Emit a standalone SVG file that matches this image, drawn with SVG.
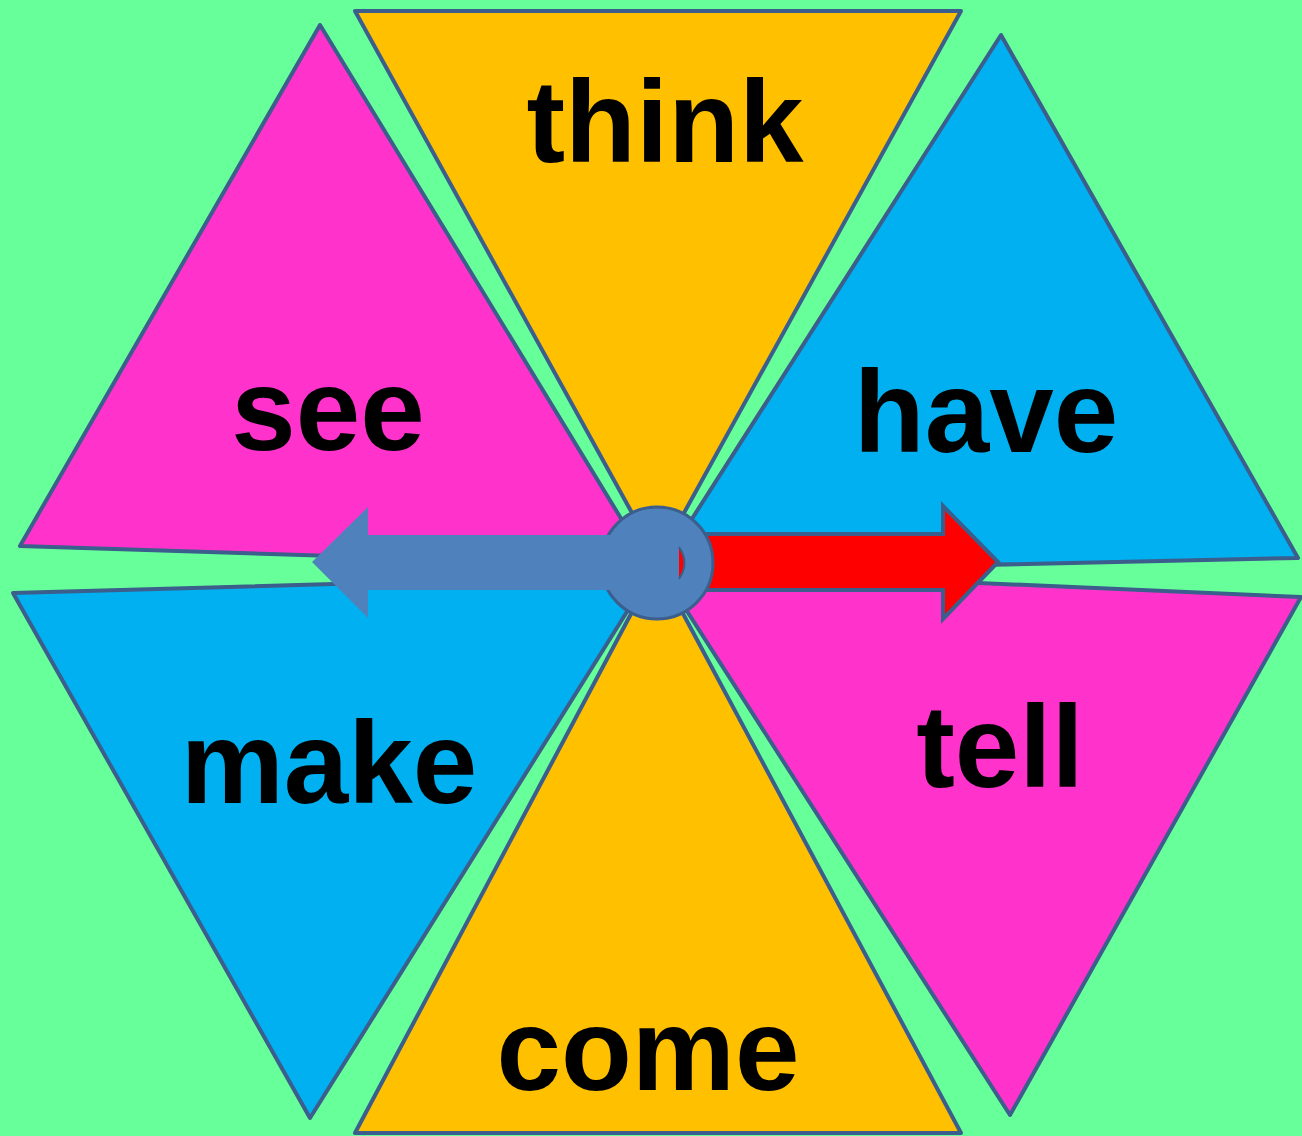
<svg xmlns="http://www.w3.org/2000/svg" width="1302" height="1136" viewBox="0 0 1302 1136">
<style>
.tri{stroke:#3B5E8C;stroke-width:4;stroke-linejoin:round}
.pink{fill:#FF33CC}.yellow{fill:#FFC000}.blue{fill:#00B0F0}
.lbl{font-family:"Liberation Sans",Arial,sans-serif;font-weight:bold;font-size:116px;fill:#000;text-anchor:middle}
</style>
<rect width="1302" height="1136" fill="#66FF99"/>
<g id="think"><polygon class="tri yellow" points="355,11 961,11 658,560"/><text class="lbl" x="665" y="162">think</text></g>
<g id="come"><polygon class="tri yellow" points="355,1133 961,1133 657,565"/><text class="lbl" x="648" y="1090">come</text></g>
<g id="see"><polygon class="tri pink" points="320,25 20,546 650,566"/><text class="lbl" x="328" y="450">see</text></g>
<g id="make"><polygon class="tri blue" points="13,593 310,1118 650,575"/><text class="lbl" x="329" y="803">make</text></g>
<g id="have"><polygon class="tri blue" points="1001,35 1298,558 658,572"/><text class="lbl" x="986" y="452">have</text></g>
<g id="tell"><polygon class="tri pink" points="1301,597 1010,1115 660,569"/><text class="lbl" x="1000" y="787">tell</text></g>
<g id="connectors">
<polygon points="679,534 943,534 943,506 998,562 943,619 943,590 679,590" fill="#FF0000" stroke="#3B5E8C" stroke-width="4" stroke-linejoin="miter"/>
<circle cx="657" cy="563" r="56" fill="#4F81BD" stroke="#3B5E8C" stroke-width="3"/>
<path d="M679,547 L679,579 Q690,563 679,547 Z" fill="#FF0000"/>
<path d="M679,547 Q690,563 679,579" fill="none" stroke="#3B5E8C" stroke-width="2"/>
<polygon points="640,535 368,535 368,507 312,562 368,618 368,590 640,590" fill="#4F81BD"/>
</g>
</svg>
